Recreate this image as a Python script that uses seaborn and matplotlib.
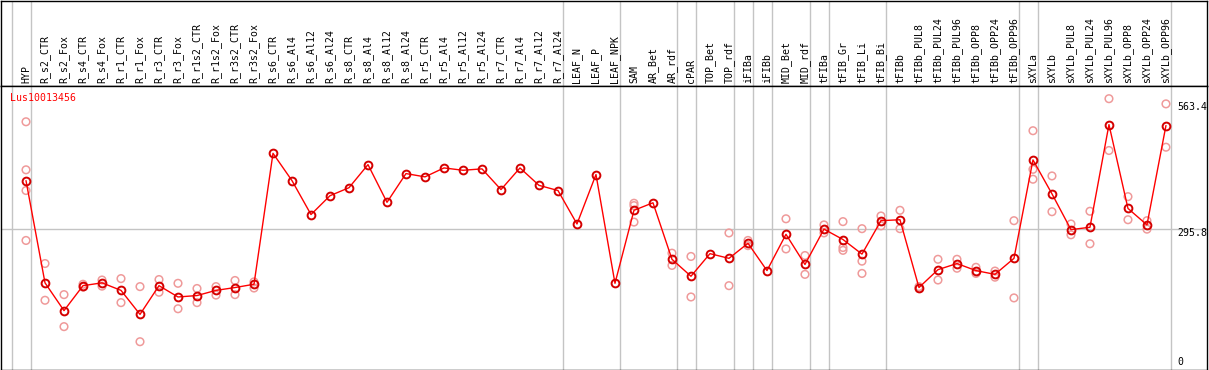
"""Expression profile of one gene across sample groups (eFP-style line chart)."""

import matplotlib

matplotlib.use("Agg")
import matplotlib.pyplot as plt
import matplotlib.transforms as mtransforms
import pandas as pd
import seaborn as sns

GENE = "Lus10013456"

samples = [
    "HYP", "R_s2_CTR", "R_s2_Fox", "R_s4_CTR", "R_s4_Fox", "R_r1_CTR", "R_r1_Fox",
    "R_r3_CTR", "R_r3_Fox", "R_r1s2_CTR", "R_r1s2_Fox", "R_r3s2_CTR", "R_r3s2_Fox",
    "R_s6_CTR", "R_s6_Al4", "R_s6_Al12", "R_s6_Al24", "R_s8_CTR", "R_s8_Al4",
    "R_s8_Al12", "R_s8_Al24", "R_r5_CTR", "R_r5_Al4", "R_r5_Al12", "R_r5_Al24",
    "R_r7_CTR", "R_r7_Al4", "R_r7_Al12", "R_r7_Al24", "LEAF_N", "LEAF_P", "LEAF_NPK",
    "SAM", "AR_Bet", "AR_rdf", "cPAR", "TOP_Bet", "TOP_rdf", "iFIBa", "iFIBb",
    "MID_Bet", "MID_rdf", "tFIBa", "tFIB_Gr", "tFIB_Li", "tFIB_Bi", "tFIBb",
    "tFIBb_PUL8", "tFIBb_PUL24", "tFIBb_PUL96", "tFIBb_OPP8", "tFIBb_OPP24",
    "tFIBb_OPP96", "sXYLa", "sXYLb", "sXYLb_PUL8", "sXYLb_PUL24", "sXYLb_PUL96",
    "sXYLb_OPP8", "sXYLb_OPP24", "sXYLb_OPP96",
]

# mean expression per sample (red line)
mean_expr = [
    398, 181, 122, 175, 181, 165, 114, 175, 151, 154, 165, 171, 178,
    456, 398, 326, 366, 383, 432, 352, 413, 406, 425, 420, 423, 379, 425, 388, 377,
    306, 411, 180,
    335, 351, 231, 195, 243, 233, 265, 207, 284, 220, 295, 273, 242, 313, 315,
    171, 209, 222, 207, 199, 233,
    442, 370, 294, 299, 517, 339, 304, 515,
]

# individual replicates (pale circles); empty where none are drawn
replicates = [
    [523, 421, 377, 271], [222, 144], [156, 88], [178, 172], [187, 174],
    [190, 139], [173, 56], [188, 161], [180, 126], [169, 139], [173, 155],
    [186, 156], [183, 170],
    [], [], [], [], [], [], [], [], [], [], [], [], [], [], [], [], [], [], [],
    [350, 345, 310], [], [244, 218], [237, 151], [], [287, 175], [271, 260], [],
    [317, 253], [239, 199], [304, 287], [311, 256, 250], [296, 227, 201],
    [323, 302], [335, 296],
    [173, 169], [231, 187], [231, 212], [214, 201], [206, 193], [313, 149],
    [504, 422, 401], [408, 332], [306, 283], [333, 264], [572, 462], [364, 315],
    [313, 295], [561, 469],
]

# group separators are drawn just after these sample positions
group_ends = [-1, 0, 28, 31, 34, 35, 37, 38, 39, 41, 42, 45, 52, 53, 60]

# reference levels shown on the right
ref_levels = [563.4, 295.8, 0]

df_mean = pd.DataFrame({"pos": range(len(samples)), "sample": samples, "expr": mean_expr})
df_rep = pd.DataFrame(
    [(i, v) for i, reps in enumerate(replicates) for v in reps],
    columns=["pos", "expr"],
)

sns.set_style("white")
plt.rcParams["font.family"] = ["DejaVu Sans Mono", "DejaVu Sans"]
plt.rcParams["font.size"] = 7.1

fig = plt.figure(figsize=(12.09, 3.70), dpi=100)
left, width = 1.0 / 1209, 1206.0 / 1209
split = (370 - 85.5) / 370
bottom = 0.5 / 370
top = 1 - 0.5 / 370
ax_head = fig.add_axes([left, split, width, top - split])
ax = fig.add_axes([left, bottom, width, split - bottom])

grid_color = "#c4c4c4"
for g in group_ends:
    ax.axvline(g + 0.25, color=grid_color, lw=1.0, zorder=0)
    ax_head.axvline(g + 0.25, color=grid_color, lw=1.0, zorder=0)
ax.axhline(ref_levels[1], color=grid_color, lw=1.0, zorder=0)

# replicates
sns.scatterplot(
    data=df_rep, x="pos", y="expr", ax=ax, s=30, marker="o",
    facecolors="none", edgecolor="#ef9a9a", linewidth=1.1, zorder=2,
)

# means
sns.lineplot(
    data=df_mean, x="pos", y="expr", ax=ax, color="red", lw=1.0,
    marker="o", markersize=5.6, markerfacecolor="none",
    markeredgecolor="#d40000", markeredgewidth=1.4, zorder=3,
)

xlim = (-1.316, 62.16)
ax.set_xlim(xlim)
ax.set_ylim(-3, 600)
ax_head.set_xlim(xlim)
ax_head.set_ylim(0, 1)

for a in (ax, ax_head):
    a.set_xticks([])
    a.set_yticks([])
    a.set(xlabel="", ylabel="")
    for sp in a.spines.values():
        sp.set_color("black")
        sp.set_linewidth(1.0)

# sample names in the header
head_trans = mtransforms.blended_transform_factory(ax_head.transData, ax_head.transAxes)
for i, name in enumerate(samples):
    ax_head.text(i, 0.025, name, rotation=90, ha="center", va="bottom",
                 transform=head_trans, color="black")

# gene name
ax.text(0.0075, 0.955, GENE, color="red", ha="left", va="center", transform=ax.transAxes)

# right-hand level labels
offsets = [-4.4, -4.4, 6.0]
for lvl, dy in zip(ref_levels, offsets):
    tr = mtransforms.offset_copy(ax.transData, fig=fig, y=dy, units="dots")
    ax.text(60.58, lvl, f"{lvl:g}", ha="left", va="center", transform=tr, color="black")

plt.savefig("out.png", dpi=100)
